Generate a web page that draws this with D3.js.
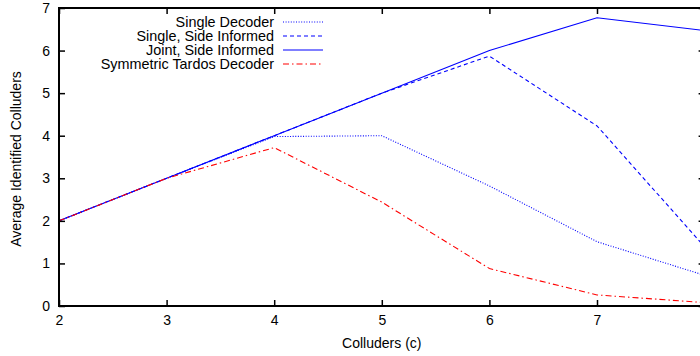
<!DOCTYPE html>
<html><head><meta charset="utf-8">
<script src="https://cdn.jsdelivr.net/npm/d3@7"></script>
<style>body{margin:0;background:#fff}svg{display:block}text{font-family:"Liberation Sans",Arial,sans-serif}</style>
</head><body><svg id="c" width="700" height="356"></svg>
<script>
const xs = [2,3,4,5,6,7,8];
const xTicks = [2,3,4,5,6,7];
const yTicks = [0,1,2,3,4,5,6,7];
const singleDecoder = [2,3,3.98,4.0,2.82,1.51,0.72];
const singleSide = [2,3,4,5,5.87,4.23,1.39];
const jointSide = [2,3,4,5,6,6.77,6.47];
const tardos = [2,3,3.72,2.44,0.88,0.26,0.08];
const seriesNames = ["Single Decoder","Single, Side Informed","Joint, Side Informed","Symmetric Tardos Decoder"];

const svg = d3.select("#c");
const x = d3.scaleLinear().domain([2,8]).range([59,704.6]);
const y = d3.scaleLinear().domain([0,7]).range([306,8]);
const FS = 14;

const series = [
  {name:seriesNames[0], v:singleDecoder, color:"#0000ff", dash:"1,1.6"},
  {name:seriesNames[1], v:singleSide, color:"#0000ff", dash:"4,3"},
  {name:seriesNames[2], v:jointSide, color:"#0000ff", dash:null},
  {name:seriesNames[3], v:tardos, color:"#ff0000", dash:"6,3,1.5,3"}
];

const line = d3.line().x((d,i)=>x(xs[i])).y(d=>y(d));
series.forEach(s=>{
  svg.append("path").attr("d",line(s.v)).attr("fill","none")
    .attr("stroke",s.color).attr("stroke-width",1.1)
    .attr("stroke-dasharray",s.dash);
});

// axes (ticks inward)
const gB = svg.append("g").attr("transform","translate(0,306)")
  .call(d3.axisBottom(x).tickValues(xTicks).tickSize(-6).tickPadding(9).tickFormat(d3.format("d")));
const gT = svg.append("g").attr("transform","translate(0,8)")
  .call(d3.axisTop(x).tickValues(xTicks).tickSize(-6).tickFormat(""));
const gL = svg.append("g").attr("transform","translate(59,0)")
  .call(d3.axisLeft(y).tickValues(yTicks).tickSize(-6).tickPadding(9).tickFormat(d3.format("d")));
const gR = svg.append("g").attr("transform","translate(704.6,0)")
  .call(d3.axisRight(y).tickValues(yTicks).tickSize(-6).tickFormat(""));
[gB,gT,gL,gR].forEach(g=>{
  g.select(".domain").remove();
  g.selectAll(".tick line").attr("stroke","#000").attr("stroke-width",1.5);
  g.selectAll("text").attr("font-size",FS).attr("fill","#000").attr("font-family","Liberation Sans, Arial, sans-serif");
});
gB.selectAll("text").attr("dy","0.71em");
svg.append("rect").attr("x",59).attr("y",8).attr("width",704.6-59).attr("height",298)
  .attr("fill","none").attr("stroke","#000").attr("stroke-width",2);

// labels
svg.append("text").attr("x",x(5)).attr("y",348).attr("text-anchor","middle")
  .attr("font-size",FS).text("Colluders (c)");
svg.append("text").attr("transform","translate(21,159) rotate(-90)").attr("text-anchor","middle")
  .attr("font-size",FS).text("Average Identified Colluders");

// legend
series.forEach((s,i)=>{
  const yy = 22 + i*14;
  svg.append("text").attr("x",274).attr("y",yy).attr("dy","0.35em").attr("text-anchor","end")
    .attr("font-size",14.4).text(s.name);
  svg.append("line").attr("x1",283).attr("x2",323).attr("y1",yy).attr("y2",yy)
    .attr("stroke",s.color).attr("stroke-width",1.1).attr("stroke-dasharray",s.dash);
});
</script></body></html>
